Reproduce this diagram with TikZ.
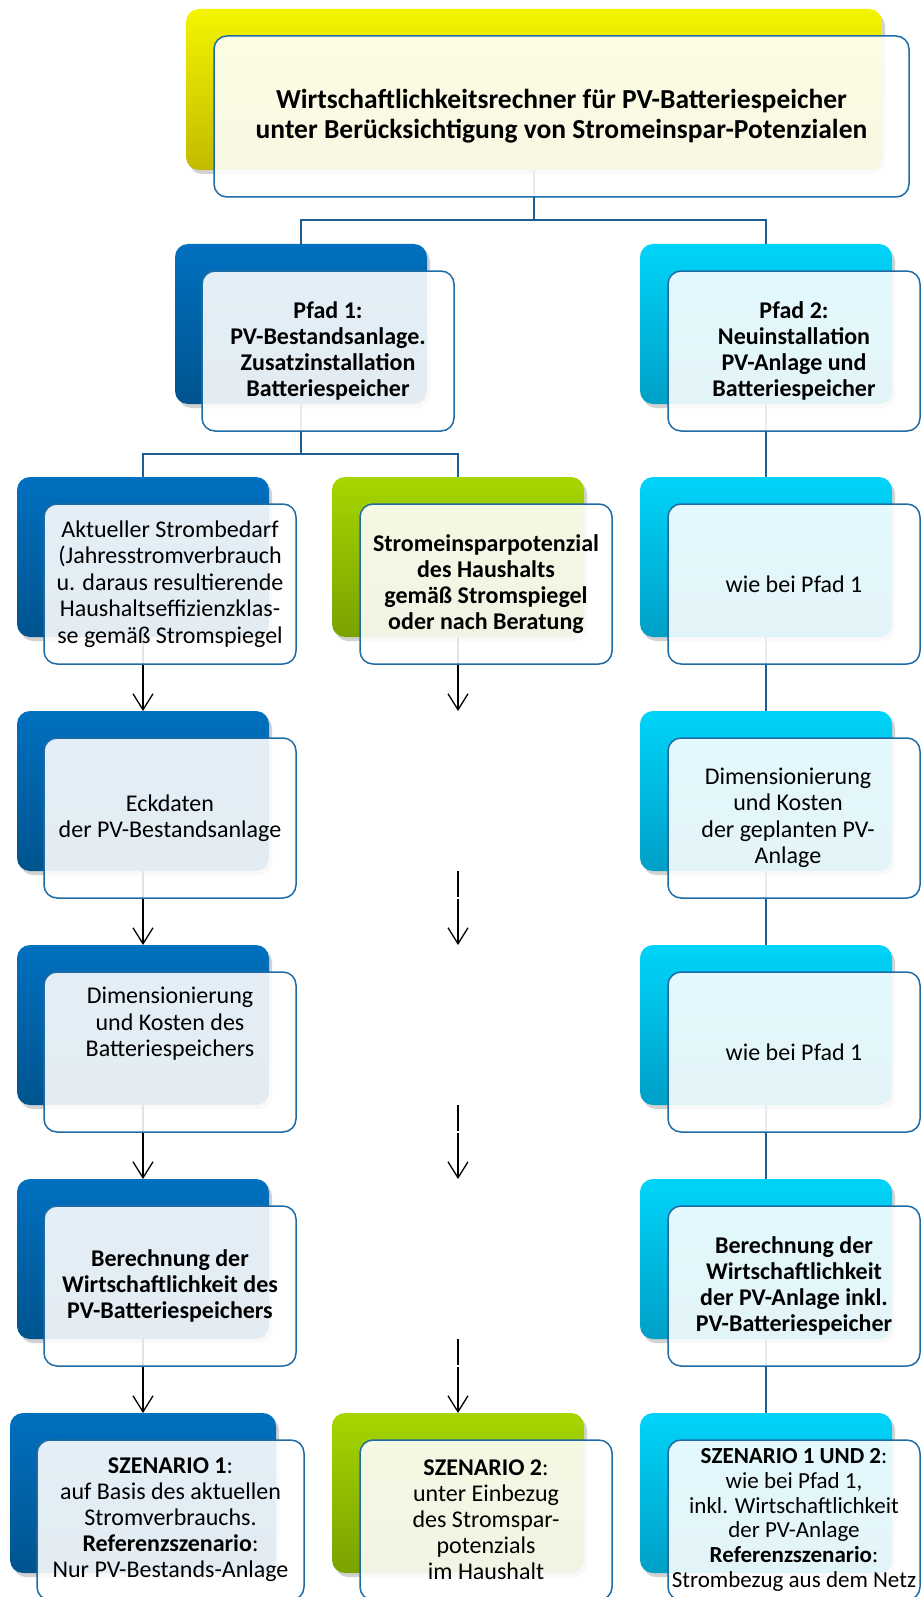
\documentclass[tikz,border=0pt]{standalone}
\usepackage{fontspec}
\setmainfont{Carlito}
\usetikzlibrary{arrows.meta,shadows}
\definecolor{bluetop}{HTML}{0070C0}
\definecolor{bluebot}{HTML}{00548E}
\definecolor{greentop}{HTML}{A6D600}
\definecolor{greenbot}{HTML}{7AA200}
\definecolor{cyantop}{HTML}{00D4FA}
\definecolor{cyanbot}{HTML}{009FC6}
\definecolor{yeltop}{HTML}{F4F400}
\definecolor{yelbot}{HTML}{C2BA00}
\definecolor{frame}{HTML}{1F6BA5}
\definecolor{connblue}{HTML}{1B5E94}
\tikzset{
  backbox/.style={rectangle, rounded corners=13pt, minimum width=252pt, minimum height=160pt,
    inner sep=0pt, outer sep=0pt, anchor=north west,
    drop shadow={shadow xshift=3pt, shadow yshift=-4pt, opacity=0.25, fill=black!70}},
  frontbox/.style={rectangle, rounded corners=13pt, minimum width=252pt, minimum height=160pt,
    inner sep=0pt, outer sep=0pt, anchor=north west, draw=frame, line width=1.5pt,
    fill=white, fill opacity=0.89, text opacity=1},
  bluegrad/.style={top color=bluetop, bottom color=bluebot},
  greengrad/.style={top color=greentop, bottom color=greenbot},
  cyangrad/.style={top color=cyantop, bottom color=cyanbot},
  yelgrad/.style={top color=yeltop, bottom color=yelbot},
  conn/.style={draw=connblue, line width=1.5pt},
  arr/.style={draw=black, line width=1.3pt, -{Straight Barb[length=16pt,width=20pt,line width=1.3pt]}},
  gapline/.style={draw=white, line width=1.6pt},
  txt/.style={align=center, inner sep=0pt, font=\fontsize{24}{26.5}\selectfont},
  txtb/.style={txt, font=\fontsize{24}{26}\selectfont\bfseries},
  titletxt/.style={txt, font=\fontsize{27.5}{30}\selectfont\bfseries},
  txts/.style={align=center, inner sep=0pt, font=\fontsize{24}{26}\selectfont},
  txtr/.style={align=center, inner sep=0pt, font=\fontsize{23}{24.8}\selectfont},
}
\begin{document}
\begin{tikzpicture}[x=1pt,y=-1pt]
\useasboundingbox (0,0) rectangle (921,1597);
% ---------- back boxes ----------
\node[backbox, yelgrad, minimum width=696pt, minimum height=161pt] (tb) at (186,9) {};
\node[backbox, bluegrad] (p1b) at (175,244) {};
\node[backbox, cyangrad] (p2b) at (640,244) {};
\node[backbox, bluegrad] (L2b) at (17,477) {};
\node[backbox, greengrad] (M2b) at (332,477) {};
\node[backbox, cyangrad] (R2b) at (640,477) {};
\node[backbox, bluegrad] (L3b) at (17,711) {};
\node[backbox, cyangrad] (R3b) at (640,711) {};
\node[backbox, bluegrad] (L4b) at (17,945) {};
\node[backbox, cyangrad] (R4b) at (640,945) {};
\node[backbox, bluegrad] (L5b) at (17,1179) {};
\node[backbox, cyangrad] (R5b) at (640,1179) {};
\node[backbox, bluegrad, minimum width=266pt] (L6b) at (10,1413) {};
\node[backbox, greengrad] (M6b) at (332,1413) {};
\node[backbox, cyangrad] (R6b) at (640,1413) {};
% ---------- connectors ----------
\coordinate (tj) at (534,220);
\draw[conn] (tb.south) -- (tj);
\draw[conn] (p1b.north) |- (tj) -| (p2b.north);
\coordinate (pj) at (301,454);
\draw[conn] (p1b.south) -- (pj);
\draw[conn] (L2b.north) |- (pj) -| (M2b.north);
\draw[conn] (p2b.south) -- (R2b.north);
\draw[conn] (R2b.south) -- (R3b.north);
\draw[conn] (R3b.south) -- (R4b.north);
\draw[conn] (R4b.south) -- (R5b.north);
\draw[conn] (R5b.south) -- (R6b.north);
\draw[arr] (L2b.south) -- (L3b.north);
\draw[arr] (L3b.south) -- (L4b.north);
\draw[arr] (L4b.south) -- (L5b.north);
\draw[arr] (L5b.south) -- (L6b.north);
\coordinate (M3t) at (458,711);
\coordinate (M3s) at (458,871);
\coordinate (M4t) at (458,945);
\coordinate (M4s) at (458,1105);
\coordinate (M5t) at (458,1179);
\coordinate (M5s) at (458,1339);
\draw[arr] (M2b.south) -- (M3t);
\draw[arr] (M3s) -- (M4t);
\draw[arr] (M4s) -- (M5t);
\draw[arr] (M5s) -- (M6b.north);
\coordinate (g1a) at (454,898); \coordinate (g1b) at (462,898);
\coordinate (g2a) at (454,1132); \coordinate (g2b) at (462,1132);
\coordinate (g3a) at (454,1366); \coordinate (g3b) at (462,1366);
\draw[gapline] (g1a) -- (g1b);
\draw[gapline] (g2a) -- (g2b);
\draw[gapline] (g3a) -- (g3b);
% ---------- front boxes ----------
\node[frontbox, minimum width=695pt, minimum height=161pt] (tf) at (214,36) {};
\node[frontbox] (p1f) at (202,271) {};
\node[frontbox] (p2f) at (668,271) {};
\node[frontbox] (L2f) at (44,504) {};
\node[frontbox] (M2f) at (360,504) {};
\node[frontbox] (R2f) at (668,504) {};
\node[frontbox] (L3f) at (44,738) {};
\node[frontbox] (R3f) at (668,738) {};
\node[frontbox] (L4f) at (44,972) {};
\node[frontbox] (R4f) at (668,972) {};
\node[frontbox] (L5f) at (44,1206) {};
\node[frontbox] (R5f) at (668,1206) {};
\node[frontbox, minimum width=267pt] (L6f) at (37,1440) {};
\node[frontbox] (M6f) at (360,1440) {};
\node[frontbox] (R6f) at (668,1440) {};
% ---------- texts ----------
\node[titletxt] (tt) at (tf.center) {Wirtschaftlichkeitsrechner für PV-Batteriespeicher\\unter Berücksichtigung von Stromeinspar-Potenzialen};
\node[txtb] (p1t) at (p1f.center) {Pfad 1:\\PV-Bestandsanlage.\\Zusatzinstallation\\Batteriespeicher};
\node[txtb] (p2t) at (p2f.center) {Pfad 2:\\Neuinstallation\\PV-Anlage und\\Batteriespeicher};
\node[txt] (L2t) at (L2f.center) {Aktueller Strombedarf\\(Jahresstromverbrauch\\u. daraus resultierende\\Haushaltseffizienzklas-\\se gemäß Stromspiegel};
\node[txtb] (M2t) at (M2f.center) {Stromeinsparpotenzial\\des Haushalts\\gemäß Stromspiegel\\oder nach Beratung};
\node[txt] (R2t) at (R2f.center) {wie bei Pfad 1};
\node[txt, xshift=-6pt] (R3t) at (R3f.center) {Dimensionierung\\und Kosten\\der geplanten PV-\\Anlage};
\node[txt] (L3t) at (L3f.center) {Eckdaten\\der PV-Bestandsanlage};
\node[txt, yshift=28pt] (L4t) at (L4f.center) {Dimensionierung\\und Kosten des\\Batteriespeichers};
\node[txt] (R4t) at (R4f.center) {wie bei Pfad 1};
\node[txtb] (L5t) at (L5f.center) {Berechnung der\\Wirtschaftlichkeit des\\PV-Batteriespeichers};
\node[txtb] (R5t) at (R5f.center) {Berechnung der\\Wirtschaftlichkeit\\der PV-Anlage inkl.\\PV-Batteriespeicher};
\node[txts] (L6t) at (L6f.center) {\textbf{SZENARIO 1}:\\auf Basis des aktuellen\\Stromverbrauchs.\\\textbf{Referenzszenario}:\\Nur PV-Bestands-Anlage};
\node[txts] (M6t) at (M6f.center) {\textbf{SZENARIO 2}:\\unter Einbezug\\des Stromspar-\\potenzials\\im Haushalt};
\node[txtr] (R6t) at (R6f.center) {\textbf{SZENARIO 1 UND 2}:\\wie bei Pfad 1,\\inkl. Wirtschaftlichkeit\\der PV-Anlage\\\textbf{Referenzszenario}:\\Strombezug aus dem Netz};
\end{tikzpicture}
\end{document}
